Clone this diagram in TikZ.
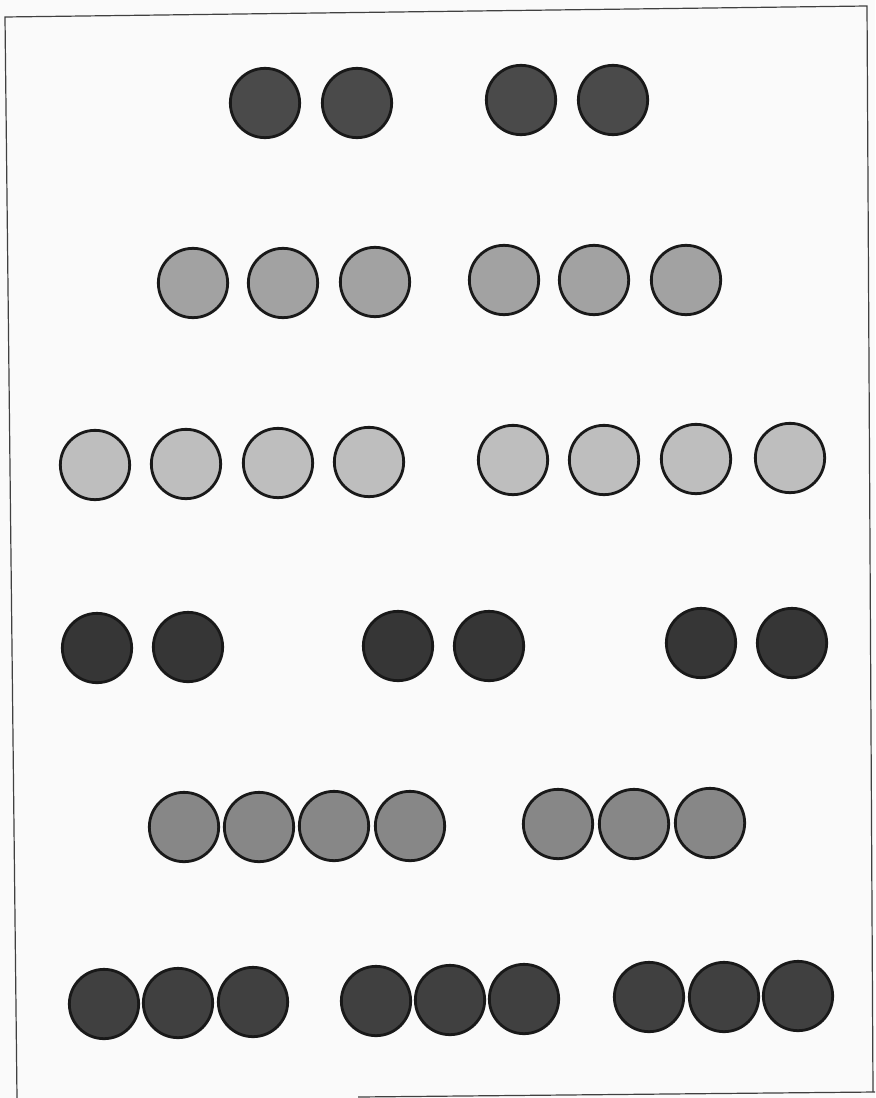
\documentclass[tikz,border=0pt]{standalone}
\begin{document}
\begin{tikzpicture}[x=0.75pt,y=-0.75pt,
  disc/.style={circle,draw=black!90,line width=2.1pt,minimum size=52pt,inner sep=0pt},
  frame/.style={draw=black!75,line width=0.9pt}]
\definecolor{cA}{HTML}{4A4A4A}
\definecolor{cB}{HTML}{A2A2A2}
\definecolor{cC}{HTML}{BEBEBE}
\definecolor{cD}{HTML}{363636}
\definecolor{cE}{HTML}{878787}
\definecolor{cF}{HTML}{404040}
\fill[white!98!black] (0,0) rectangle (875,1098);
\useasboundingbox (0,0) rectangle (875,1098);
% frame
\coordinate (tl) at (5,17);
\coordinate (tr) at (867,6);
\coordinate (bl) at (17,1098);
\coordinate (br) at (873,1092);
\coordinate (bm) at (358,1097);
\coordinate (be) at (875,1092);
\draw[frame] (bl) -- (tl) -- (tr) -- (br);
\draw[frame] (bm) -- (be);
% row 1
\foreach \x/\y [count=\i] in {265/103,357/103,521/100,613/100}
  \node[disc,fill=cA] (a\i) at (\x,\y) {};
% row 2
\foreach \x/\y [count=\i] in {193/283,283/283,375/282,504/280,594/280,686/280}
  \node[disc,fill=cB] (b\i) at (\x,\y) {};
% row 3
\foreach \x/\y [count=\i] in {95/465,186/464,278/463,369/462,513/460,604/460,696/459,790/458}
  \node[disc,fill=cC] (c\i) at (\x,\y) {};
% row 4
\foreach \x/\y [count=\i] in {97/648,188/647,398/646,489/646,701/643,792/643}
  \node[disc,fill=cD] (d\i) at (\x,\y) {};
% row 5
\foreach \x/\y [count=\i] in {184/827,259/827,334/826,410/826,558/824,634/824,710/823}
  \node[disc,fill=cE] (e\i) at (\x,\y) {};
% row 6
\foreach \x/\y [count=\i] in {104/1004,178/1003,253/1002,376/1001,450/1000,524/999,649/997,724/997,798/996}
  \node[disc,fill=cF] (f\i) at (\x,\y) {};
\end{tikzpicture}
\end{document}
